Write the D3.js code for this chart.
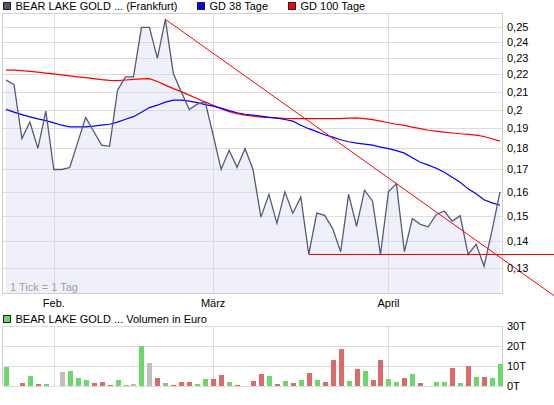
<!DOCTYPE html>
<html><head><meta charset="utf-8">
<script src="https://cdn.jsdelivr.net/npm/d3@7"></script>
<style>
body{margin:0;background:#fff}
svg{display:block}
text{font-family:"Liberation Sans",Arial,Helvetica,sans-serif;font-size:11px;fill:#000}
</style>
</head><body>
<svg id="c" width="554" height="405"></svg>
<script>
// ---------- data ----------
const monthTickIdx = [6, 26, 48];
const monthLabels = ["Feb.", "März", "April"];
const priceTicks = [0.13, 0.14, 0.15, 0.16, 0.17, 0.18, 0.19, 0.2, 0.21, 0.22, 0.23, 0.24, 0.25];
const volTicks = [0, 10, 20, 30];
const seriesNames = ["BEAR LAKE GOLD ... (Frankfurt)", "GD 38 Tage", "GD 100 Tage"];
const volumeName = "BEAR LAKE GOLD ... Volumen in Euro";

const price = [0.2167, 0.2141, 0.1849, 0.1934, 0.1800, 0.1992, 0.1700, 0.1700, 0.1709, 0.1830,
  0.1958, 0.1886, 0.1816, 0.1810, 0.2108, 0.2186, 0.2186, 0.2500, 0.2500, 0.2298,
  0.2555, 0.2206, 0.2099, 0.2000, 0.2030, 0.2043, 0.1866, 0.1700, 0.1791, 0.1710,
  0.1800, 0.1700, 0.1494, 0.1589, 0.1469, 0.1600, 0.1510, 0.1578, 0.1350, 0.1510,
  0.1501, 0.1448, 0.1360, 0.1590, 0.1457, 0.1607, 0.1561, 0.1350, 0.1600, 0.1636,
  0.1360, 0.1488, 0.1465, 0.1455, 0.1505, 0.1519, 0.1478, 0.1500, 0.1350, 0.1388,
  0.1308, 0.1441, 0.1600];

const gd38 = [0.2001, 0.1986, 0.1973, 0.1961, 0.1950, 0.1941, 0.1929, 0.1917, 0.1908, 0.1908,
  0.1908, 0.1912, 0.1917, 0.1922, 0.1933, 0.1948, 0.1962, 0.1986, 0.2011, 0.2024,
  0.2041, 0.2052, 0.2052, 0.2046, 0.2038, 0.2027, 0.2019, 0.2008, 0.1994, 0.1983,
  0.1975, 0.1970, 0.1965, 0.1958, 0.1954, 0.1947, 0.1938, 0.1917, 0.1899, 0.1884,
  0.1868, 0.1856, 0.1843, 0.1833, 0.1826, 0.1821, 0.1816, 0.1806, 0.1799, 0.1789,
  0.1777, 0.1755, 0.1734, 0.1720, 0.1706, 0.1687, 0.1665, 0.1642, 0.1613, 0.1592,
  0.1566, 0.1553, 0.1543];

const gd100 = [0.2226, 0.2226, 0.2223, 0.2218, 0.2214, 0.2208, 0.2203, 0.2197, 0.2191, 0.2186,
  0.2181, 0.2175, 0.2169, 0.2165, 0.2164, 0.2167, 0.2171, 0.2174, 0.2175, 0.2158,
  0.2137, 0.2117, 0.2100, 0.2080, 0.2060, 0.2041, 0.2024, 0.2005, 0.1989, 0.1978,
  0.1970, 0.1965, 0.1960, 0.1958, 0.1955, 0.1953, 0.1952, 0.1952, 0.1952, 0.1952,
  0.1952, 0.1952, 0.1952, 0.1954, 0.1956, 0.1952, 0.1946, 0.1938, 0.1930, 0.1922,
  0.1916, 0.1907, 0.1899, 0.1891, 0.1886, 0.1881, 0.1877, 0.1873, 0.1870, 0.1866,
  0.1859, 0.1848, 0.1836];

// volume in thousand euro
const volume = [9.7, 0, 1.7, 5.2, 1.2, 1.0, 0, 7.2, 7.7, 4.2,
  3.0, 1.7, 2.2, 0.7, 3.2, 0.5, 1.2, 20.2, 11.7, 4.2,
  1.7, 0.7, 2.2, 2.2, 1.2, 3.7, 3.7, 5.7, 2.0, 0.7,
  0, 2.7, 6.2, 5.2, 1.0, 2.5, 1.5, 3.0, 6.5, 3.0,
  2.0, 13.1, 18.6, 2.5, 8.5, 7.5, 3.0, 13.1, 3.5, 2.0,
  4.0, 6.0, 1.5, 0, 2.0, 2.0, 9.0, 1.5, 10.0, 4.5,
  4.5, 4.0, 11.0];
// 1 = up, -1 = down, 0 = unchanged
const volDir = [1, 0, -1, 1, -1, 1, 0, 0, 1, 1,
  1, -1, -1, -1, 1, 1, 0, 1, 0, -1,
  1, -1, -1, -1, 1, 1, -1, -1, 1, -1,
  0, -1, -1, 1, -1, 1, -1, 1, -1, 1,
  -1, -1, -1, 1, -1, 1, -1, -1, 1, 1,
  -1, 1, -1, 0, 1, 1, -1, 1, -1, 1,
  -1, 1, 1];

const trendDown = [[20, 0.2555], [49, 0.1636]];
const supportLine = [38, 0.135];

// ---------- layout ----------
const W = 554;
const P = {left: 3, right: 503, top: 13.3, bottom: 293.3};
const V = {top: 326, bottom: 386};

const svg = d3.select("#c");
const x = d3.scaleLinear().domain([0, price.length - 1]).range([6, 500]);
const y = d3.scaleLog().domain([0.1215, 0.2597]).range([P.bottom, P.top]);
const yv = d3.scaleLinear().domain([0, 30]).range([V.bottom, V.top]);

const idx = d3.range(price.length);
const grid = "#dcdcdc";

// area fill
svg.append("path")
  .datum(idx)
  .attr("fill", "#f0f0fb")
  .attr("d", d3.area().x(i => x(i)).y0(P.bottom).y1(i => y(price[i])));

// grid (price panel)
const g1 = svg.append("g").attr("shape-rendering", "crispEdges");
g1.selectAll("line.h").data(priceTicks).join("line")
  .attr("x1", P.left).attr("x2", P.right)
  .attr("y1", d => Math.round(y(d)) + 0.5).attr("y2", d => Math.round(y(d)) + 0.5)
  .attr("stroke", grid);
g1.selectAll("line.v").data(monthTickIdx).join("line")
  .attr("x1", d => Math.round(x(d)) + 0.5).attr("x2", d => Math.round(x(d)) + 0.5)
  .attr("y1", P.top).attr("y2", P.bottom)
  .attr("stroke", grid);
g1.append("rect").attr("x", P.left - 0.5).attr("y", Math.round(P.top) + 0.5)
  .attr("width", P.right - P.left).attr("height", Math.round(P.bottom - P.top))
  .attr("fill", "none").attr("stroke", "#d0d0d0");

// grid (volume panel)
const g2 = svg.append("g").attr("shape-rendering", "crispEdges");
g2.selectAll("line.h").data(volTicks).join("line")
  .attr("x1", P.left).attr("x2", P.right)
  .attr("y1", d => Math.round(yv(d)) + 0.5).attr("y2", d => Math.round(yv(d)) + 0.5)
  .attr("stroke", grid);
g2.selectAll("line.v").data(monthTickIdx).join("line")
  .attr("x1", d => Math.round(x(d)) + 0.5).attr("x2", d => Math.round(x(d)) + 0.5)
  .attr("y1", V.top).attr("y2", V.bottom)
  .attr("stroke", grid);
g2.append("line").attr("x1", P.left - 0.5).attr("x2", P.left - 0.5)
  .attr("y1", V.top).attr("y2", V.bottom).attr("stroke", "#d0d0d0");
g2.append("line").attr("x1", P.right - 0.5).attr("x2", P.right - 0.5)
  .attr("y1", V.top).attr("y2", V.bottom).attr("stroke", "#d0d0d0");

// volume bars
const volColor = d => d > 0 ? "#6cd86c" : (d < 0 ? "#dc6a6a" : "#c0c0c0");
svg.append("g").attr("shape-rendering", "crispEdges")
  .selectAll("rect").data(idx.filter(i => volume[i] > 0)).join("rect")
  .attr("x", i => Math.round(x(i)) - 2.5)
  .attr("width", 5)
  .attr("y", i => yv(volume[i]))
  .attr("height", i => yv(0) - yv(volume[i]))
  .attr("fill", i => volColor(volDir[i]));

// moving averages
const lineOf = arr => d3.line().x(i => x(i)).y(i => y(arr[i]));
svg.append("path").datum(idx).attr("fill", "none").attr("stroke", "#ff0000")
  .attr("stroke-width", 1.2).attr("d", lineOf(gd100));
svg.append("path").datum(idx).attr("fill", "none").attr("stroke", "#0000ff")
  .attr("stroke-width", 1.2).attr("d", lineOf(gd38));

// price line
svg.append("path").datum(idx).attr("fill", "none").attr("stroke", "#555a78")
  .attr("stroke-width", 1.3).attr("d", lineOf(price));

// trend lines
const p1 = [x(trendDown[0][0]), y(trendDown[0][1])];
const p2 = [x(trendDown[1][0]), y(trendDown[1][1])];
const slope = (p2[1] - p1[1]) / (p2[0] - p1[0]);
svg.append("line").attr("x1", p1[0]).attr("y1", p1[1])
  .attr("x2", W).attr("y2", p1[1] + slope * (W - p1[0]))
  .attr("stroke", "#ff0000").attr("stroke-width", 1);
svg.append("line").attr("x1", x(supportLine[0])).attr("x2", W)
  .attr("y1", Math.round(y(supportLine[1])) + 0.5).attr("y2", Math.round(y(supportLine[1])) + 0.5)
  .attr("stroke", "#ff0000").attr("stroke-width", 1).attr("shape-rendering", "crispEdges");

// y labels
svg.append("g").selectAll("text").data(priceTicks).join("text")
  .attr("x", 507).attr("y", d => y(d)).attr("dy", "0.36em")
  .text(d => String(d).replace(".", ","));
svg.append("g").selectAll("text").data(volTicks).join("text")
  .attr("x", 507).attr("y", d => yv(d)).attr("dy", "0.36em")
  .text(d => d + "T");

// x labels
svg.append("g").selectAll("text").data(monthTickIdx).join("text")
  .attr("x", d => x(d)).attr("y", 307).attr("text-anchor", "middle")
  .text((d, i) => monthLabels[i]);

svg.append("text").attr("x", 10).attr("y", 290.5).style("fill", "#a0a0a0").text("1 Tick = 1 Tag");

// legends
const legend = [
  {x: 3, color: "#4f5575", label: seriesNames[0]},
  {x: 197, color: "#0000ff", label: seriesNames[1]},
  {x: 288, color: "#ff0000", label: seriesNames[2]}
];
const lg = svg.append("g");
legend.forEach(l => {
  lg.append("rect").attr("x", l.x + 0.5).attr("y", 2.5).attr("width", 7).attr("height", 7)
    .attr("fill", l.color).attr("stroke", "#222").attr("shape-rendering", "crispEdges");
  lg.append("text").attr("x", l.x + 12.5).attr("y", 10).text(l.label);
});
lg.append("rect").attr("x", 3.5).attr("y", 315.5).attr("width", 7).attr("height", 7)
  .attr("fill", "#6cd86c").attr("stroke", "#222").attr("shape-rendering", "crispEdges");
lg.append("text").attr("x", 15.5).attr("y", 323).text(volumeName);
</script>
</body></html>
